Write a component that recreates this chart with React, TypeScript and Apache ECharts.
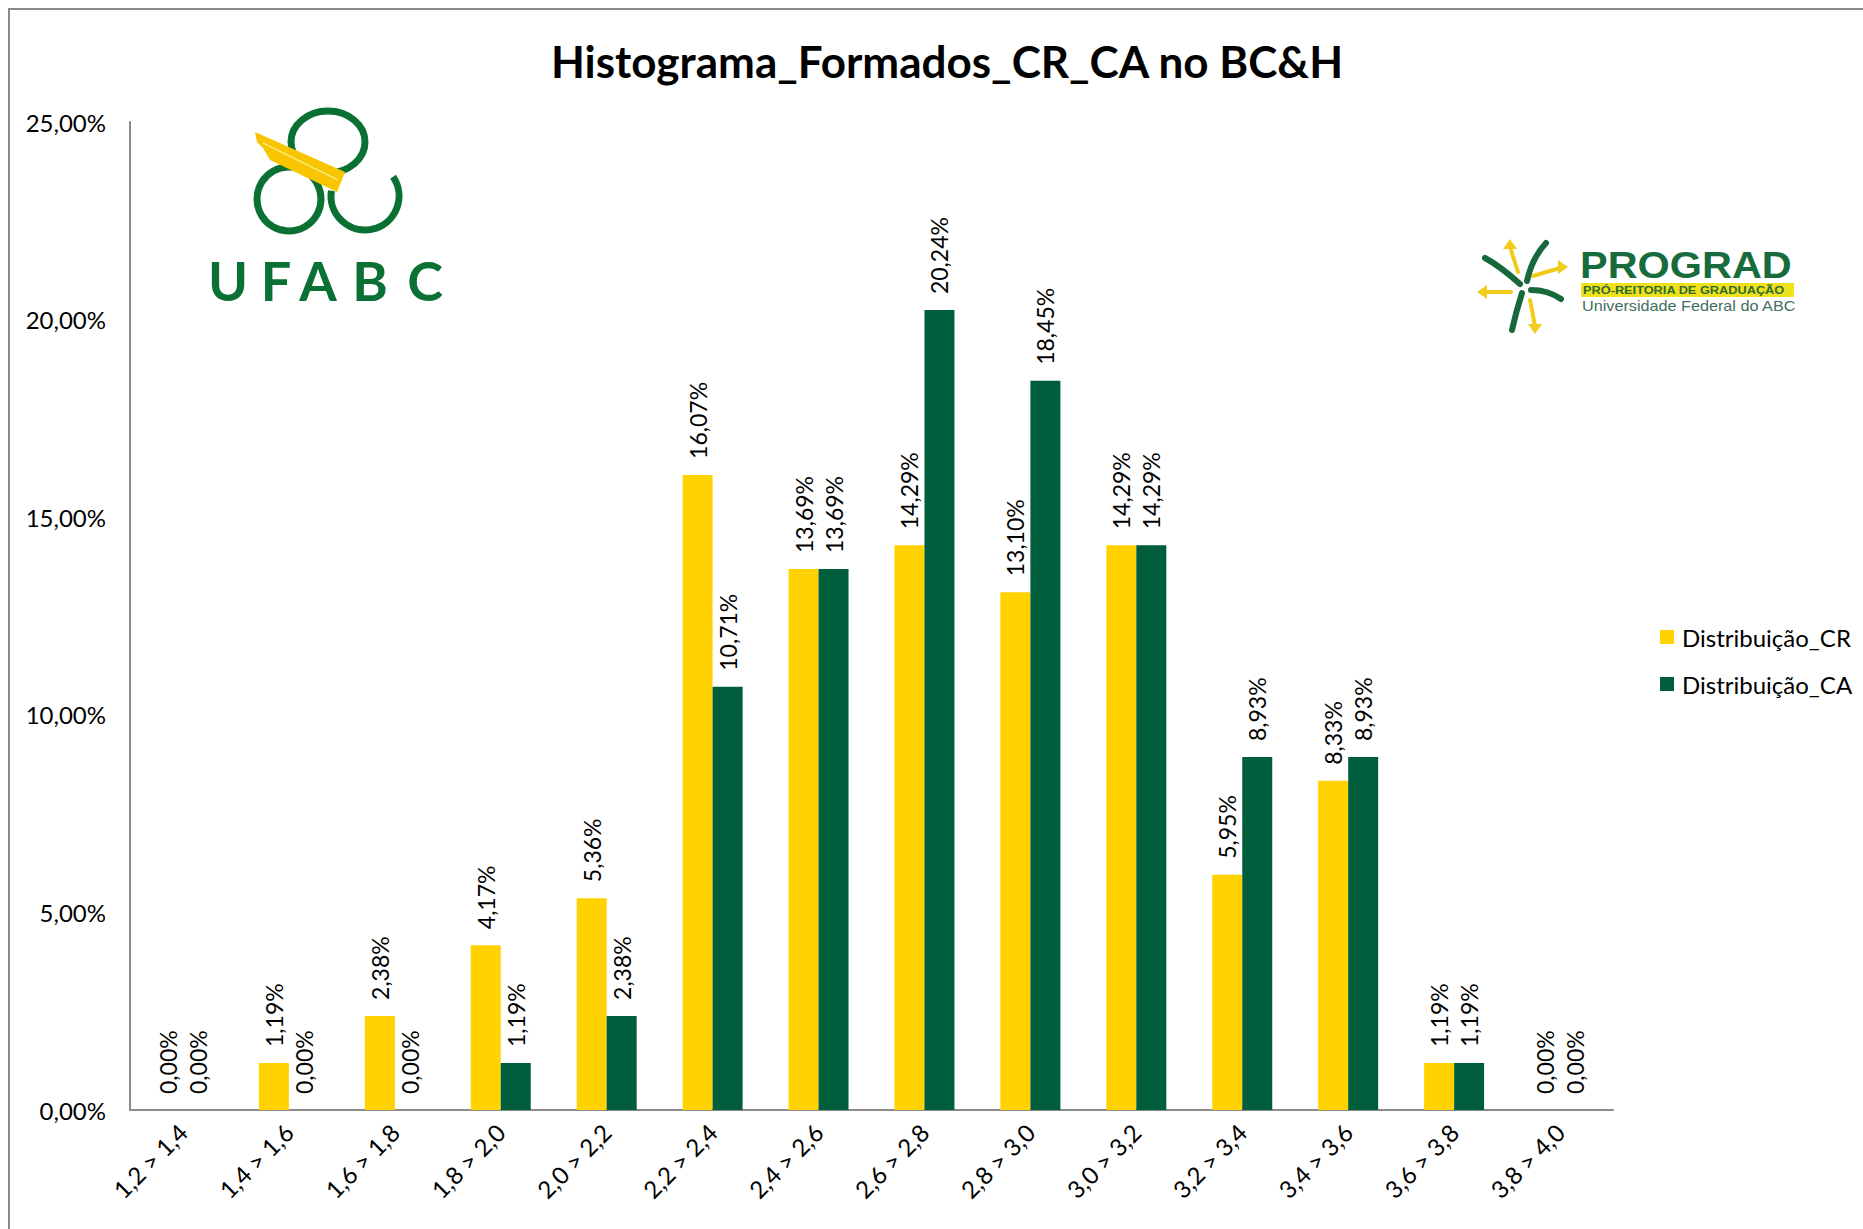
import React, { useEffect, useRef } from "react";
import * as echarts from "echarts";

const categories = [
  "1,2 > 1,4", "1,4 > 1,6", "1,6 > 1,8", "1,8 > 2,0", "2,0 > 2,2", "2,2 > 2,4", "2,4 > 2,6",
  "2,6 > 2,8", "2,8 > 3,0", "3,0 > 3,2", "3,2 > 3,4", "3,4 > 3,6", "3,6 > 3,8", "3,8 > 4,0",
];
const distribuicaoCR = [0, 1.19, 2.38, 4.17, 5.36, 16.07, 13.69, 14.29, 13.1, 14.29, 5.95, 8.33, 1.19, 0];
const distribuicaoCA = [0, 0, 0, 1.19, 2.38, 10.71, 13.69, 20.24, 18.45, 14.29, 8.93, 8.93, 1.19, 0];
const seriesNames = ["Distribuição_CR", "Distribuição_CA"];
const titleText = "Histograma_Formados_CR_CA no BC&H";

const YELLOW = "#FFD200";
const GREEN = "#005E3C";
const FONT = "Lato, 'Noto Sans', sans-serif";
const LOGO_GREEN = "#0b7034";

const pct = (v: number) => v.toFixed(2).replace(".", ",") + "%";

export default function App() {
  const ref = useRef<HTMLDivElement>(null);
  useEffect(() => {
    if (!ref.current) return;
    const chart = echarts.init(ref.current, null, { renderer: "svg" });

    const ufabcLetters = [
      { t: "U", x: 228 },
      { t: "F", x: 276 },
      { t: "A", x: 318 },
      { t: "B", x: 370 },
      { t: "C", x: 425 },
    ];

    const barLabel = {
      show: true,
      position: "top",
      rotate: 90,
      align: "left",
      verticalAlign: "middle",
      distance: 16,
      fontSize: 23,
      fontFamily: FONT,
      color: "#000",
      formatter: (p: any) => pct(p.value),
    };

    const option: any = {
      animation: false,
      backgroundColor: "#fff",
      title: {
        text: titleText,
        left: 942,
        textAlign: "center",
        top: 34,
        textStyle: { fontSize: 44, fontWeight: "bold", fontFamily: FONT, color: "#000" },
      },
      legend: {
        orient: "vertical",
        left: 1655,
        top: 618,
        itemWidth: 14,
        itemHeight: 14,
        itemGap: 19,
        icon: "rect",
        textStyle: { fontSize: 24, fontFamily: FONT, color: "#000", lineHeight: 28, padding: [0, 0, 0, 3] },
        data: seriesNames,
      },
      grid: { left: 130, top: 122, right: 250, bottom: 119, containLabel: false },
      xAxis: {
        type: "category",
        data: categories,
        axisLine: { lineStyle: { color: "#8c8c8c", width: 2 } },
        axisTick: { show: false },
        axisLabel: {
          rotate: 45,
          interval: 0,
          margin: 18,
          fontSize: 24,
          fontFamily: FONT,
          color: "#000",
        },
      },
      yAxis: {
        type: "value",
        min: 0,
        max: 25,
        interval: 5,
        splitLine: { show: false },
        axisLine: { show: true, lineStyle: { color: "#8c8c8c", width: 2 } },
        axisTick: { show: false },
        axisLabel: {
          margin: 24,
          fontSize: 24,
          fontFamily: FONT,
          color: "#000",
          formatter: (v: number) => pct(v),
        },
      },
      series: [
        {
          name: seriesNames[0],
          type: "bar",
          data: distribuicaoCR,
          barWidth: 30,
          barGap: "0%",
          itemStyle: { color: YELLOW },
          label: barLabel,
        },
        {
          name: seriesNames[1],
          type: "bar",
          data: distribuicaoCA,
          barWidth: 30,
          barGap: "0%",
          itemStyle: { color: GREEN },
          label: barLabel,
        },
      ],
      graphic: [
        {
          type: "rect",
          shape: { x: 9, y: 9, width: 2000, height: 2000 },
          style: { fill: "none", stroke: "#8a8a8a", lineWidth: 2 },
          silent: true,
        },
        // UFABC logo
        {
          type: "ellipse",
          shape: { cx: 328, cy: 142, rx: 37, ry: 31 },
          style: { fill: "none", stroke: LOGO_GREEN, lineWidth: 7 },
        },
        {
          type: "circle",
          shape: { cx: 289, cy: 199, r: 32 },
          style: { fill: "none", stroke: LOGO_GREEN, lineWidth: 7 },
        },
        {
          type: "arc",
          shape: { cx: 365, cy: 196, r: 34, startAngle: -0.6, endAngle: Math.PI * 1.05, clockwise: true },
          style: { fill: "none", stroke: LOGO_GREEN, lineWidth: 7 },
        },
        {
          type: "polygon",
          shape: { points: [[255, 132], [345, 172], [337, 192], [270, 160], [263, 148], [257, 142]] },
          style: { fill: "#f7c600" },
        },
        {
          type: "line",
          shape: { x1: 263, y1: 143, x2: 338, y2: 180 },
          style: { stroke: "#fff2a0", lineWidth: 1.2 },
        },
        ...ufabcLetters.map((l) => ({
          type: "text",
          x: l.x,
          y: 280,
          style: {
            text: l.t,
            fill: LOGO_GREEN,
            font: "bold 54px Lato, sans-serif",
            align: "center",
            verticalAlign: "middle",
          },
        })),
        // PROGRAD logo
        {
          type: "text",
          x: 1580,
          y: 265,
          scaleX: 1.12,
          style: {
            text: "PROGRAD",
            fill: "#176b3c",
            font: "bold 37px 'Liberation Sans', Arial, sans-serif",
            align: "left",
            verticalAlign: "middle",
          },
        },
        {
          type: "rect",
          shape: { x: 1581, y: 283, width: 213, height: 14 },
          style: { fill: "#efe21c" },
        },
        {
          type: "text",
          x: 1583,
          y: 290.5,
          scaleX: 1.16,
          style: {
            text: "PRÓ-REITORIA DE GRADUAÇÃO",
            fill: "#2f6b2f",
            font: "bold 11px 'Liberation Sans', Arial, sans-serif",
            align: "left",
            verticalAlign: "middle",
          },
        },
        {
          type: "text",
          x: 1582,
          y: 306,
          scaleX: 1.08,
          style: {
            text: "Universidade Federal do ABC",
            fill: "#3f7060",
            font: "15px 'Liberation Sans', Arial, sans-serif",
            align: "left",
            verticalAlign: "middle",
          },
        },
        // pinwheel - yellow arrows
        ...[
          [1518, 272, 1510, 247],
          [1533, 276, 1560, 268],
          [1530, 300, 1535, 326],
          [1511, 292, 1485, 292],
        ].map((a) => ({
          type: "line",
          shape: { x1: a[0], y1: a[1], x2: a[2], y2: a[3] },
          style: { stroke: "#f2cc1a", lineWidth: 4, lineCap: "round" },
        })),
        ...[
          [1510, 243, 0],
          [1564, 267, 1],
          [1535, 330, 2],
          [1481, 292, 3],
        ].map((a) => {
          const [x, y, d] = a;
          const pts =
            d === 0
              ? [[x, y - 4], [x - 7, y + 6], [x + 7, y + 6]]
              : d === 1
              ? [[x + 4, y], [x - 6, y - 7], [x - 6, y + 7]]
              : d === 2
              ? [[x, y + 4], [x - 7, y - 6], [x + 7, y - 6]]
              : [[x - 4, y], [x + 6, y - 7], [x + 6, y + 7]];
          return { type: "polygon", shape: { points: pts }, style: { fill: "#f2cc1a" } };
        }),
        // pinwheel - green blades
        ...[
          [1520, 284, 1500, 266, 1485, 258],
          [1527, 281, 1532, 258, 1546, 243],
          [1531, 290, 1548, 290, 1561, 299],
          [1522, 293, 1516, 312, 1512, 330],
        ].map((b) => ({
          type: "bezierCurve",
          shape: { x1: b[0], y1: b[1], cpx1: b[2], cpy1: b[3], x2: b[4], y2: b[5] },
          style: { stroke: "#17693c", lineWidth: 6, fill: "none", lineCap: "round" },
        })),
      ],
    };
    chart.setOption(option);
    return () => chart.dispose();
  }, []);

  return (
    <div
      ref={ref}
      style={{ position: "absolute", left: 0, top: 0, width: 1863, height: 1229 }}
    />
  );
}
